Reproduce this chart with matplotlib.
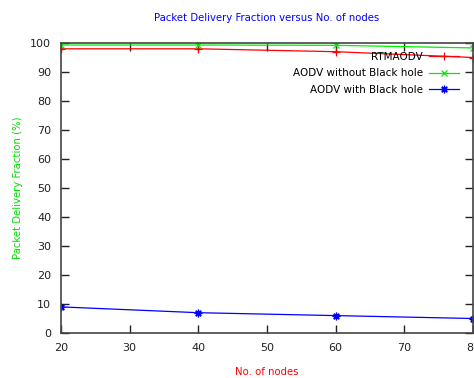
import matplotlib
matplotlib.use("Agg")
import matplotlib.pyplot as plt

nodes = [20, 40, 60, 80]
rtmaodv = [98, 98, 97, 95]
aodv_without_bh = [99.3, 99.3, 99.2, 98.3]
aodv_with_bh = [9, 7, 6, 5]

fig = plt.figure(figsize=(4.74, 3.78), dpi=100)
ax = fig.add_axes([61 / 474, 1 - 333 / 378, 412 / 474, 290 / 378])

ax.plot(nodes, rtmaodv, color="red", lw=0.9, marker="+", ms=6, mew=0.9,
        label="RTMAODV")
ax.plot(nodes, aodv_without_bh, color="#00ee00", lw=0.9, marker="x", ms=4.5,
        mew=0.9, label="AODV without Black hole")
ax.plot(nodes, aodv_with_bh, color="blue", lw=0.9, marker=(8, 2, 0), ms=5.5,
        mew=0.9, label="AODV with Black hole")

ax.set_xlim(20, 80)
ax.set_ylim(0, 100)
ax.set_xticks(range(20, 81, 10))
ax.set_yticks(range(0, 101, 10))
ax.tick_params(direction="in", length=6, width=1, top=True, right=True,
               labelsize=8, colors="#222222", pad=7)
for s in ax.spines.values():
    s.set_color("#444444")
    s.set_linewidth(1.2)

fig.text(267 / 474, 1 - 18 / 378, "Packet Delivery Fraction versus No. of nodes",
         color="blue", fontsize=7.3, ha="center", va="center")
fig.text(267 / 474, 1 - 372 / 378, "No. of nodes", color="red", fontsize=7.3,
         ha="center", va="center")
fig.text(18 / 474, 1 - 188 / 378, "Packet Delivery Fraction (%)", color="#00dd00",
         fontsize=7.3, ha="center", va="center", rotation=90)

ax.legend(loc="upper right", bbox_to_anchor=(0.975, 0.985), frameon=False,
          markerfirst=False, fontsize=7.5, handlelength=2.8, labelspacing=0.65,
          handletextpad=0.6, borderaxespad=0)

fig.savefig("out.png", dpi=100)
